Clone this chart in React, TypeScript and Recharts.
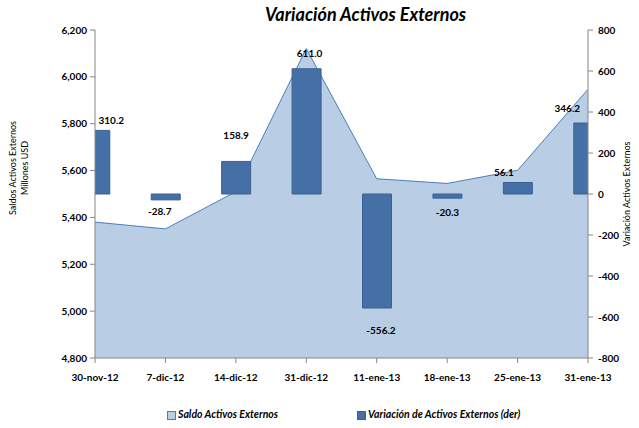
import React from 'react';
import { ComposedChart, Area, Bar, XAxis, YAxis, LabelList } from 'recharts';

const categories = ['30-nov-12', '7-dic-12', '14-dic-12', '31-dic-12', '11-ene-13', '18-ene-13', '25-ene-13', '31-ene-13'];
const saldo = [5380, 5351, 5510, 6121, 5565, 5545, 5601, 5947];
const variacion = [310.2, -28.7, 158.9, 611.0, -556.2, -20.3, 56.1, 346.2];
const leftTicks = [4800, 5000, 5200, 5400, 5600, 5800, 6000, 6200];
const rightTicks = [-800, -600, -400, -200, 0, 200, 400, 600, 800];

// label nudges (style only)
const labelDx = [16, -6, 0, 3, 4, 0, -14, -21];
const labelDy = [-10, 11, -26, -16, 22, 14, -10, -15];

const data = categories.map((c, i) => ({ idx: i, name: c, saldo: saldo[i], variacion: variacion[i] }));

const FONT = 'Lato, "DejaVu Sans", sans-serif';

const BarLabel = (props: any) => {
  const { x, y, width, height, value, index } = props;
  const top = Math.min(y, y + height);
  const bottom = Math.max(y, y + height);
  const cx = x + width / 2 + labelDx[index];
  const cy = (value >= 0 ? top : bottom) + labelDy[index];
  return (
    <text x={cx} y={cy} textAnchor="middle" dominantBaseline="central" fontSize={10} fontWeight={700} fontFamily={FONT} fill="#000">
      {Number(value).toFixed(1)}
    </text>
  );
};

export default function App() {
  return (
    <div style={{ position: 'absolute', left: 0, top: 0, width: 639, height: 428, background: '#fff', fontFamily: FONT }}>
      <div style={{ position: 'absolute', left: 265, top: 3, width: 200, textAlign: 'center', fontSize: 18, fontWeight: 700, fontStyle: 'italic', whiteSpace: 'nowrap', color: '#000' }}>
        Variación Activos Externos
      </div>
      <ComposedChart width={639} height={428} data={data} margin={{ top: 30, right: 0, left: 0, bottom: 40 }}>
        <XAxis
          dataKey="idx"
          type="number"
          domain={[0, 7]}
          ticks={[0, 1, 2, 3, 4, 5, 6, 7]}
          allowDataOverflow
          tickFormatter={(v: number) => categories[v]}
          height={30}
          tickSize={5}
          tickMargin={11}
          stroke="#868686"
          tick={{ fontSize: 10, fontWeight: 700, fill: '#000', fontFamily: FONT }}
          interval={0}
        />
        <YAxis
          yAxisId="left"
          orientation="left"
          domain={[4800, 6200]}
          ticks={leftTicks}
          width={95}
          tickSize={5}
          tickMargin={3}
          stroke="#868686"
          allowDataOverflow
          tickFormatter={(v: number) => v.toLocaleString('en-US')}
          tick={{ fontSize: 10, fontWeight: 700, fill: '#000', fontFamily: FONT }}
          label={{
            content: () => (
              <g fontFamily={FONT} fontSize={9} fill="#000">
                <text x={12} y={168} transform="rotate(-90 12 168)" textAnchor="middle" dominantBaseline="central">Saldos Activos Externos</text>
                <text x={24} y={168} transform="rotate(-90 24 168)" textAnchor="middle" dominantBaseline="central">Millones USD</text>
              </g>
            ),
          }}
        />
        <YAxis
          yAxisId="right"
          orientation="right"
          domain={[-800, 800]}
          ticks={rightTicks}
          width={51}
          tickSize={5}
          tickMargin={5}
          stroke="#868686"
          tick={{ fontSize: 10, fontWeight: 700, fill: '#000', fontFamily: FONT }}
          label={{
            content: () => (
              <text x={626} y={194} transform="rotate(-90 626 194)" textAnchor="middle" dominantBaseline="central" fontFamily={FONT} fontSize={9} fill="#000">
                Variación Activos Externos
              </text>
            ),
          }}
        />
        <Area
          yAxisId="left"
          dataKey="saldo"
          type="linear"
          fill="#B9CDE5"
          fillOpacity={1}
          stroke="#4A7EBB"
          strokeWidth={1}
          isAnimationActive={false}
          dot={false}
          activeDot={false}
        />
        <Bar yAxisId="right" dataKey="variacion" barSize={29} fill="#4470A6" stroke="#3A6193" strokeWidth={1} isAnimationActive={false}>
          <LabelList dataKey="variacion" content={BarLabel} />
        </Bar>
      </ComposedChart>
      <div style={{ position: 'absolute', top: 408, left: 0, width: 639, height: 16, fontSize: 10.5, fontWeight: 700, fontStyle: 'italic', color: '#000' }}>
        <div style={{ position: 'absolute', left: 167, top: 3, width: 7, height: 7, background: '#B9CDE5', border: '1px solid #4A7EBB' }} />
        <div style={{ position: 'absolute', left: 178, top: 0, whiteSpace: 'nowrap' }}>Saldo Activos Externos</div>
        <div style={{ position: 'absolute', left: 357, top: 3, width: 7, height: 7, background: '#4470A6', border: '1px solid #3A6193' }} />
        <div style={{ position: 'absolute', left: 368, top: 0, whiteSpace: 'nowrap' }}>Variación de Activos Externos (der)</div>
      </div>
    </div>
  );
}
